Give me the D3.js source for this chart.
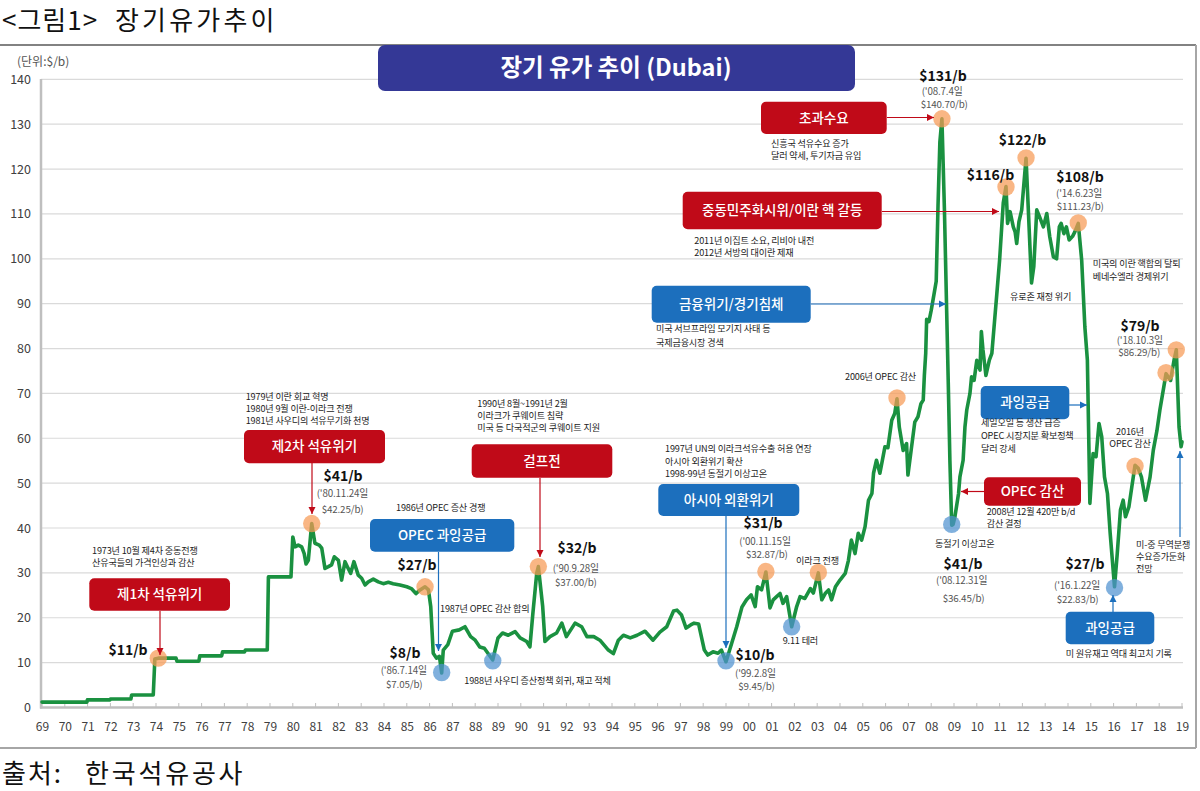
<!DOCTYPE html>
<html><head><meta charset="utf-8">
<script src="https://cdn.jsdelivr.net/npm/d3@7"></script>
<style>
body{margin:0;background:#fff;}
svg{display:block;font-family:"Noto Sans CJK KR","Noto Sans",sans-serif;}
</style></head><body>
<svg id="c" width="1200" height="791"></svg>
<script>
// ---- data (decimal year, $/b) ----
const dates = [1969.0,1970.97,1970.99,1971.98,1972.0,1972.9,1972.93,1973.88,1973.95,1974.1,1974.88,1974.92,1975.88,1975.92,1976.88,1976.92,1977.88,1977.92,1978.88,1978.93,1979.92,
1980.0,1980.1,1980.24,1980.39,1980.5,1980.58,1980.68,1980.83,1980.97,1981.16,1981.27,1981.41,1981.56,1981.7,1981.82,1982.0,1982.14,1982.29,1982.43,1982.54,1982.68,1982.87,
1983.02,1983.17,1983.31,1983.53,1983.75,1983.97,1984.19,1984.4,1984.7,1985.0,1985.2,1985.4,1985.58,1985.8,1985.95,1986.05,1986.16,1986.3,1986.43,1986.53,1986.6,1986.8,
1987.0,1987.3,1987.55,1987.8,1988.0,1988.2,1988.4,1988.77,1989.0,1989.2,1989.45,1989.75,1989.97,1990.26,1990.4,1990.53,1990.7,1990.77,1990.96,1991.06,1991.28,1991.57,1991.8,
1992.0,1992.38,1992.67,1992.9,1993.2,1993.47,1993.84,1994.06,1994.28,1994.5,1994.8,1995.1,1995.45,1995.8,1996.1,1996.4,1996.7,1996.85,1997.05,1997.25,1997.45,1997.6,1997.8,
1998.05,1998.2,1998.43,1998.65,1998.8,1999.0,1999.25,1999.47,1999.7,1999.9,2000.1,2000.28,2000.38,2000.56,2000.75,2000.93,2001.07,2001.22,2001.37,2001.5,2001.66,2001.88,
2002.1,2002.25,2002.46,2002.7,2002.83,2003.05,2003.2,2003.35,2003.5,2003.63,2003.8,2004.0,2004.23,2004.37,2004.5,2004.66,2004.8,2004.95,2005.1,2005.25,2005.4,2005.47,2005.6,
2005.75,2005.97,2006.1,2006.27,2006.4,2006.5,2006.6,2006.77,2006.92,2006.98,2007.12,2007.28,2007.42,2007.55,2007.65,2007.7,2007.76,2007.8,2007.9,2008.0,2008.12,2008.22,
2008.3,2008.38,2008.47,2008.58,2008.68,2008.75,2008.82,2008.9,2008.96,2009.04,2009.2,2009.26,2009.4,2009.48,2009.56,2009.7,2009.77,2009.88,2010.0,2010.14,2010.2,2010.27,
2010.4,2010.55,2010.66,2010.88,2011.0,2011.16,2011.28,2011.35,2011.46,2011.6,2011.68,2011.75,2011.85,2011.97,2012.16,2012.26,2012.4,2012.5,2012.63,2012.75,2012.92,2013.07,
2013.2,2013.36,2013.5,2013.62,2013.7,2013.82,2013.93,2014.05,2014.2,2014.3,2014.45,2014.6,2014.74,2014.85,2014.96,2015.1,2015.23,2015.36,2015.48,2015.6,2015.73,2015.85,
2016.04,2016.16,2016.3,2016.42,2016.52,2016.67,2016.8,2016.94,2017.08,2017.22,2017.4,2017.6,2017.74,2017.9,2018.03,2018.25,2018.3,2018.5,2018.65,2018.75,2018.87,2018.96,2019.0];
const prices = [1.2,1.2,1.7,1.7,1.9,1.9,2.8,2.8,10.8,11.0,11.0,10.3,10.3,11.5,11.5,12.4,12.4,12.8,12.8,29.1,29.1,
38.0,35.8,36.2,35.8,34.3,32.0,32.8,41.0,36.6,36.2,35.5,31.0,31.4,31.8,33.6,32.8,28.4,32.5,31.0,29.9,32.5,29.5,
28.8,27.3,28.0,28.6,28.0,27.6,27.9,27.6,27.3,26.9,26.5,25.4,26.2,26.9,26.2,22.5,12.1,11.0,11.4,7.7,12.8,14.0,
17.0,17.3,18.0,15.8,15.0,13.5,13.2,10.6,15.5,16.6,16.1,16.9,15.5,14.7,13.5,21.0,30.0,31.4,22.5,14.7,15.8,16.6,18.8,
15.8,18.8,18.0,15.8,15.8,15.0,12.8,12.0,15.0,16.1,15.5,16.1,17.0,15.0,16.8,18.0,21.5,21.7,20.6,17.7,18.4,18.8,18.6,
12.8,11.7,12.4,12.1,12.8,10.2,14.3,18.0,22.4,24.0,25.1,22.5,26.9,26.2,30.2,22.2,24.0,24.7,25.4,23.2,24.7,18.0,
22.5,24.7,24.3,26.5,25.5,30.0,24.0,25.4,26.2,24.0,26.9,28.4,29.9,32.8,37.3,34.3,38.8,37.3,40.3,46.2,47.7,52.2,55.1,
52.2,58.1,57.9,64.0,65.5,68.8,62.5,57.3,58.8,51.8,57.3,63.6,64.8,67.7,68.5,74.0,79.0,86.5,86.0,88.5,92.0,95.0,
112.0,126.0,131.2,111.0,88.0,72.0,55.0,40.6,40.8,42.5,47.7,51.4,55.1,62.5,66.3,70.0,73.7,72.9,77.4,75.2,83.8,79.7,
74.0,77.4,78.9,92.3,99.7,112.4,116.1,107.9,110.5,107.1,106.0,103.4,108.3,110.9,122.4,110.9,94.6,98.3,110.9,109.4,107.1,110.1,
104.9,100.4,100.0,107.1,107.9,105.6,107.1,104.2,105.0,106.0,107.9,99.7,84.8,77.4,45.5,56.6,55.9,63.3,60.3,51.4,47.7,38.8,
26.9,34.3,44.0,46.2,42.5,44.7,49.2,54.0,53.3,51.4,46.2,51.4,57.3,61.7,66.3,72.9,74.4,72.9,77.4,79.7,62.5,58.1,59.2];

const yTicks = [0,10,20,30,40,50,60,70,80,90,100,110,120,130,140];
const xYears = d3.range(1969, 2020);
const xLabels = xYears.map(v => String(v % 100).padStart(2, '0'));

// highlighted points
const highDates  = [1974.1,1980.83,1985.8,1990.77,2000.75,2003.05,2006.5,2008.47,2011.28,2012.16,2014.45,2016.94,2018.3,2018.75];
const highPrices = [11.0,41.0,26.9,31.4,30.3,30.1,69.0,131.2,116.0,122.5,108.0,53.8,74.6,79.7];
const lowDates   = [1986.53,1988.77,1999.0,2001.88,2008.9,2016.04];
const lowPrices  = [7.8,10.4,10.4,18.0,40.8,26.7];

// ---- layout ----
const svg = d3.select('#c');
const x = d3.scaleLinear([1969, 2019], [42, 1182]);
const y = d3.scaleLinear([0, 140], [707.5, 79.3]);

// frame
svg.append('line').attr('x1',0).attr('x2',1196).attr('y1',45).attr('y2',45).attr('stroke','#595959').attr('stroke-width',1.5);
svg.append('line').attr('x1',1196).attr('x2',1196).attr('y1',45).attr('y2',748).attr('stroke','#a6a6a6').attr('stroke-width',2);
svg.append('line').attr('x1',0).attr('x2',1196).attr('y1',748).attr('y2',748).attr('stroke','#a6a6a6').attr('stroke-width',2);

function bigText(parts, by){
  parts.forEach(([s,tx,ls])=>svg.append('text').attr('x',tx).attr('y',by).attr('font-size',26)
    .attr('letter-spacing',ls).attr('fill','#111').text(s));
}
bigText([['<그림1>',2,1.0],['장기유가추이',115,3.2]], 30);
bigText([['출처:',2,2.0],['한국석유공사',85,2.8]], 783);

// grid
svg.append('g').selectAll('line').data(yTicks.filter(d => d > 0)).join('line')
  .attr('x1',41).attr('x2',1183).attr('y1',d=>y(d)).attr('y2',d=>y(d))
  .attr('stroke','#dadada').attr('stroke-width',1.2);

// y axis
const ya = svg.append('g').attr('transform','translate(41,0)')
  .call(d3.axisLeft(y).tickValues(yTicks).tickSize(0).tickPadding(10));
ya.select('.domain').remove();
ya.selectAll('text').attr('font-size',12.5).attr('fill','#404040').attr('font-family','"Noto Sans CJK KR",sans-serif');
svg.append('line').attr('x1',41).attr('x2',41).attr('y1',79).attr('y2',708.5).attr('stroke','#bfbfbf').attr('stroke-width',2.5);

// x axis
const xa = svg.append('g').attr('transform','translate(0,707.5)')
  .call(d3.axisBottom(x).tickValues(xYears).tickFormat((d,i)=>xLabels[i]).tickSize(0).tickPadding(15));
xa.select('.domain').remove();
xa.selectAll('text').attr('font-size',12).attr('fill','#404040').attr('font-family','"Noto Sans CJK KR",sans-serif');
svg.append('g').selectAll('line').data(xYears).join('line')
  .attr('x1',d=>x(d)).attr('x2',d=>x(d)).attr('y1',707).attr('y2',703)
  .attr('stroke','#bfbfbf').attr('stroke-width',1);
svg.append('line').attr('x1',40).attr('x2',1183).attr('y1',707.5).attr('y2',707.5).attr('stroke','#bfbfbf').attr('stroke-width',2.5);

svg.append('text').attr('x',17).attr('y',62).attr('dy','0.35em').attr('font-size',12).attr('fill','#555').text('(단위:$/b)');

// line
const pts = dates.map((t,i)=>({t, v: prices[i]}));
svg.append('path').datum(pts)
  .attr('d', d3.line().x(d=>x(d.t)).y(d=>y(d.v)))
  .attr('fill','none').attr('stroke','#1a9140').attr('stroke-width',3.6)
  .attr('stroke-linejoin','round').attr('stroke-linecap','round');

// markers
svg.append('g').selectAll('circle').data(highDates.map((t,i)=>({t,v:highPrices[i]}))).join('circle')
  .attr('cx',d=>x(d.t)).attr('cy',d=>y(d.v)).attr('r',8.7)
  .attr('fill','#f79a55').attr('opacity',0.72);
svg.append('g').selectAll('circle').data(lowDates.map((t,i)=>({t,v:lowPrices[i]}))).join('circle')
  .attr('cx',d=>x(d.t)).attr('cy',d=>y(d.v)).attr('r',8.7)
  .attr('fill','#4f91d0').attr('opacity',0.72);

// title box
svg.append('rect').attr('x',378).attr('y',45).attr('width',477).attr('height',46).attr('rx',7).attr('fill','#343896');
svg.append('text').attr('x',616).attr('y',68).attr('dy','0.35em').attr('text-anchor','middle')
  .attr('font-size',23.5).attr('font-weight',700).attr('fill','#fff').text('장기 유가 추이 (Dubai)');

// arrows
const RED = '#c00a18', BLUE = '#1c6fbd';
const arrows = [
  [160,611,160,655,RED],[312,463,312,514,RED],[540,478,540,557,RED],[887,117.5,934,117.5,RED],
  [882,211.5,999,211.5,RED],[984,491.5,961,491.5,RED],
  [438.5,552,438.5,651,BLUE],[726,516,726,648,BLUE],[811,304,946,304,BLUE],[1069,405,1087,405,BLUE],
  [1113,612,1113,595,BLUE],[1180,537,1180,451,BLUE]];
arrows.forEach(([x1,y1,x2,y2,c])=>{
  svg.append('line').attr('x1',x1).attr('y1',y1).attr('x2',x2).attr('y2',y2).attr('stroke',c).attr('stroke-width',1.2);
  const a = Math.atan2(y2-y1,x2-x1), L=7, W=3.5;
  const bx = x2 - L*Math.cos(a), by = y2 - L*Math.sin(a);
  const p = [[x2,y2],[bx - W*Math.sin(a), by + W*Math.cos(a)],[bx + W*Math.sin(a), by - W*Math.cos(a)]];
  svg.append('path').attr('d','M'+p.map(q=>q.join(',')).join('L')+'Z').attr('fill',c);
});

// callout boxes
const boxes = [
  ['제1차 석유위기',89.3,578.3,140.7,32.4,RED],['제2차 석유위기',244,430,141,33.3,RED],['걸프전',471.7,444.3,140.6,33.4,RED],
  ['초과수요',761,101.7,125.7,32.3,RED],['중동민주화시위/이란 핵 갈등',682.7,191.7,199,37.6,RED],['OPEC 감산',984,477.3,97,28.4,RED],
  ['OPEC 과잉공급',370,519,144.3,32.7,BLUE],['아시아 외환위기',658.3,484,141,32,BLUE],['금융위기/경기침체',651.7,285.7,159,37,BLUE],
  ['과잉공급',980.7,386,88.6,33.3,BLUE],['과잉공급',1065.7,611.7,88.6,32.6,BLUE]];
boxes.forEach(([t,bx,by,w,h,c])=>{
  svg.append('rect').attr('x',bx).attr('y',by).attr('width',w).attr('height',h).attr('rx',5).attr('fill',c);
  svg.append('text').attr('x',bx+w/2).attr('y',by+h/2).attr('dy','0.35em').attr('text-anchor','middle')
    .attr('font-size',13.5).attr('font-weight',500).attr('fill','#fff').text(t);
});

// note texts: [lines, x, y, lineHeight, anchor]
const notes = [
  [['1973년 10월 제4차 중동전쟁','산유국들의 가격인상과 감산'],92,551.2,12,'start'],
  [['1979년 이란 회교 혁명','1980년 9월 이란-이라크 전쟁','1981년 사우디의 석유무기화 천명'],245.7,397,12,'start'],
  [['1986년 OPEC 증산 경쟁'],396,508.3,12,'start'],
  [['1987년 OPEC 감산 합의'],440,609.3,12,'start'],
  [['1988년 사우디 증산정책 회귀, 재고 적체'],464.3,680.7,12,'start'],
  [['1990년 8월~1991년 2월','이라크가 쿠웨이트 침략','미국 등 다국적군의 쿠웨이트 지원'],477.3,404.3,12,'start'],
  [['1997년 UN의 이라크석유수출 허용 연장','아시아 외환위기 확산','1998-99년 동절기 이상고온'],665,449.3,12.5,'start'],
  [['이라크 전쟁'],796,561,12,'start'],
  [['9.11 테러'],782.7,641,12,'start'],
  [['2006년 OPEC 감산'],845,377.3,12,'start'],
  [['신흥국 석유수요 증가','달러 약세, 투기자금 유입'],771,143.8,11.8,'start'],
  [['2011년 이집트 소요, 리비아 내전','2012년 서방의 대이란 제재'],694.3,241,11.8,'start'],
  [['미국 서브프라임 모기지 사태 등','국제금융시장 경색'],656,328.7,14,'start'],
  [['미국의 이란 핵합의 탈퇴','베네수엘라 경제위기'],1092.7,264,12.7,'start'],
  [['유로존 재정 위기'],1010,296.7,12,'start'],
  [['세일오일 등 생산 급증','OPEC 시장지분 확보정책','달러 강세'],981,423.3,13,'start'],
  [['2016년','OPEC 감산'],1130,431.7,12.6,'middle'],
  [['2008년 12월 420만 b/d','감산 결정'],986.7,511.5,12,'start'],
  [['동절기 이상고온'],935,544.3,12,'start'],
  [['미 원유재고 역대 최고치 기록'],1065.7,654.3,12,'start'],
  [['미-중 무역분쟁','수요증가둔화','전망'],1136,545,12,'start']];
notes.forEach(([lines,tx,ty,lh,anc])=>{
  const t = svg.append('text').attr('font-size',9.1).attr('fill','#222').attr('text-anchor',anc).attr('letter-spacing',-0.15);
  lines.forEach((s,i)=>t.append('tspan').attr('x',tx).attr('y',ty+i*lh).attr('dy','0.35em').text(s));
});

// price labels
const priceLabels = [['$11/b',128,650],['$41/b',343,476],['$27/b',417,565.2],['$8/b',405,653.5],['$32/b',577,548.5],
  ['$31/b',763,523.5],['$10/b',755,655],['$131/b',943,76.5],['$122/b',1022.5,140],['$116/b',990.5,175],
  ['$108/b',1080,177.5],['$79/b',1140,326.3],['$41/b',963,564],['$27/b',1085,564]];
priceLabels.forEach(([s,tx,ty])=>{
  svg.append('text').attr('x',tx).attr('y',ty).attr('dy','0.35em').attr('text-anchor','middle')
    .attr('font-size',14).attr('font-weight',700).attr('fill','#111').text(s);
});

const dateLabels = [["('80.11.24일",316.7,493.3],['$42.25/b)',321.7,510],["('86.7.14일",380.7,671],['$7.05/b)',386,684.3],
  ["('90.9.28일",552.7,568.3],['$37.00/b)',555,582.3],["('00.11.15일",739.3,542],['$32.87/b)',746,554.8],
  ["('99.2.8일",735,673.3],['$9.45/b)',738.3,686.3],["('08.7.4일",921.7,92],['$140.70/b)',920.7,104.5],
  ["('14.6.23일",1056,193.8],['$111.23/b)',1056.7,206.8],["('18.10.3일",1116.7,340.5],['$86.29/b)',1118.3,353],
  ["('08.12.31일",936,580.7],['$36.45/b)',942.7,598.3],["('16.1.22일",1054,585.7],['$22.83/b)',1056.7,599.3]];
dateLabels.forEach(([s,tx,ty])=>{
  svg.append('text').attr('x',tx).attr('y',ty).attr('dy','0.35em')
    .attr('font-size',9.8).attr('fill','#555').attr('letter-spacing',-0.15).text(s);
});
</script>
</body></html>
